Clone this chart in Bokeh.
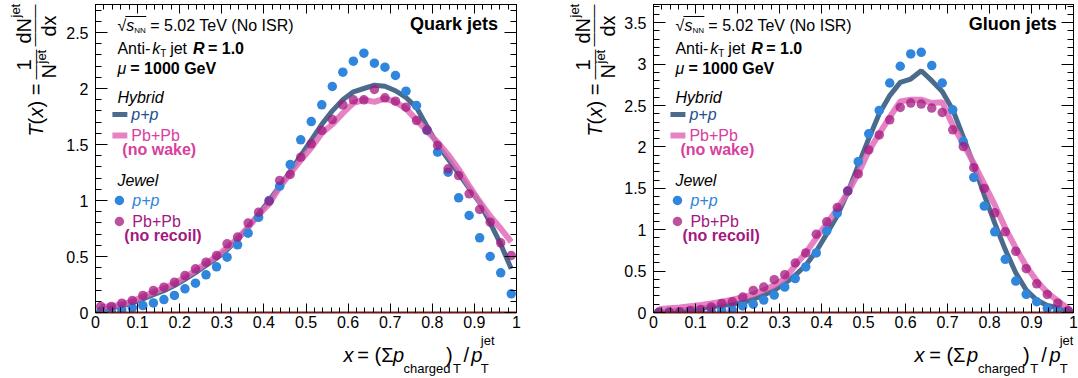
import math
from bokeh.plotting import figure
from bokeh.models import Label, LinearAxis, FixedTicker, CustomJSTickFormatter, Range1d
from bokeh.layouts import row, column
from bokeh.embed import file_html
from bokeh.resources import INLINE

FONT = "Liberation Sans"

# ---------------- data ----------------
x_centers = [0.0125, 0.0375, 0.0625, 0.0875, 0.1125, 0.1375, 0.1625, 0.1875, 0.2125, 0.2375,
             0.2625, 0.2875, 0.3125, 0.3375, 0.3625, 0.3875, 0.4125, 0.4375, 0.4625, 0.4875,
             0.5125, 0.5375, 0.5625, 0.5875, 0.6125, 0.6375, 0.6625, 0.6875, 0.7125, 0.7375,
             0.7625, 0.7875, 0.8125, 0.8375, 0.8625, 0.8875, 0.9125, 0.9375, 0.9625, 0.9875]

quark_hybrid_pp = [0.03, 0.04, 0.06, 0.085, 0.12, 0.16, 0.195, 0.24, 0.295, 0.355,
                   0.42, 0.485, 0.56, 0.65, 0.76, 0.88, 1.0, 1.13, 1.26, 1.40,
                   1.54, 1.68, 1.80, 1.90, 1.97, 2.00, 2.03, 2.02, 1.98, 1.92,
                   1.83, 1.66, 1.50, 1.37, 1.24, 1.11, 0.98, 0.80, 0.61, 0.39]
quark_hybrid_pbpb = [0.05, 0.055, 0.075, 0.10, 0.14, 0.18, 0.215, 0.26, 0.315, 0.375,
                     0.44, 0.50, 0.58, 0.66, 0.76, 0.87, 0.97, 1.12, 1.24, 1.36,
                     1.47, 1.60, 1.68, 1.78, 1.87, 1.90, 1.88, 1.91, 1.88, 1.82,
                     1.72, 1.62, 1.52, 1.41, 1.28, 1.13, 0.99, 0.86, 0.75, 0.63]
quark_jewel_pp = [0.012, 0.012, 0.024, 0.042, 0.062, 0.085, 0.115, 0.152, 0.211, 0.262,
                  0.336, 0.408, 0.494, 0.604, 0.708, 0.85, 1.0, 1.128, 1.321, 1.542,
                  1.705, 1.854, 2.018, 2.146, 2.244, 2.315, 2.226, 2.19, 2.116, 1.976,
                  1.848, 1.625, 1.432, 1.253, 1.024, 0.866, 0.667, 0.5, 0.354, 0.167]
quark_jewel_pbpb = [0.054, 0.054, 0.083, 0.107, 0.152, 0.196, 0.226, 0.271, 0.33, 0.39,
                    0.449, 0.509, 0.613, 0.673, 0.798, 0.896, 0.994, 1.179, 1.232, 1.387,
                    1.506, 1.625, 1.723, 1.854, 1.899, 1.899, 1.991, 1.917, 1.887, 1.833,
                    1.714, 1.631, 1.491, 1.283, 1.223, 1.06, 0.92, 0.806, 0.622, 0.509]

gluon_hybrid_pp = [0.01, 0.02, 0.03, 0.045, 0.055, 0.07, 0.085, 0.10, 0.12, 0.16,
                   0.21, 0.27, 0.35, 0.45, 0.57, 0.74, 0.95, 1.17, 1.45, 1.78,
                   2.10, 2.40, 2.62, 2.78, 2.82, 2.92, 2.80, 2.67, 2.45, 2.12,
                   1.78, 1.42, 1.08, 0.76, 0.48, 0.27, 0.15, 0.085, 0.057, 0.024]
gluon_hybrid_pbpb = [0.04, 0.05, 0.06, 0.075, 0.09, 0.11, 0.13, 0.155, 0.185, 0.22,
                     0.27, 0.33, 0.41, 0.57, 0.72, 0.90, 1.07, 1.25, 1.45, 1.68,
                     1.95, 2.16, 2.36, 2.55, 2.57, 2.57, 2.53, 2.54, 2.26, 2.04,
                     1.80, 1.55, 1.30, 1.02, 0.78, 0.56, 0.38, 0.24, 0.14, 0.05]
gluon_jewel_pp = [0.0, 0.0, 0.0, 0.004, 0.004, 0.012, 0.024, 0.032, 0.08, 0.10,
                  0.15, 0.21, 0.307, 0.41, 0.55, 0.72, 0.985, 1.20, 1.467, 1.822,
                  2.158, 2.44, 2.772, 2.974, 3.123, 3.143, 2.982, 2.772, 2.448, 2.065,
                  1.632, 1.285, 0.974, 0.642, 0.38, 0.22, 0.13, 0.05, 0.02, 0.01]
gluon_jewel_pbpb = [0.005, 0.005, 0.01, 0.024, 0.035, 0.065, 0.11, 0.13, 0.186, 0.267,
                    0.307, 0.396, 0.457, 0.598, 0.719, 0.945, 1.095, 1.268, 1.467, 1.673,
                    1.964, 2.145, 2.327, 2.477, 2.529, 2.517, 2.469, 2.416, 2.206, 2.004,
                    1.749, 1.499, 1.204, 0.974, 0.739, 0.529, 0.347, 0.218, 0.113, 0.024]

x_major_ticks = [0, 0.1, 0.2, 0.3, 0.4, 0.5, 0.6, 0.7, 0.8, 0.9, 1.0]
quark_y_ticks = [0, 0.5, 1, 1.5, 2, 2.5]
gluon_y_ticks = [0, 0.5, 1, 1.5, 2, 2.5, 3, 3.5]
quark_ymax = 2.75
gluon_ymax = 3.72

# ---------------- styles ----------------
COL_HY_PP = "#4a6b8c"
COL_HY_PB = "#e26cba"
COL_JW_PP = "#2f86dc"
COL_JW_PB = "#a3187f"
TXT_HY_PP = "#1d4f91"
TXT_HY_PB = "#d9409e"
TXT_JW_PP = "#2f86dc"
TXT_JW_PB = "#a3187f"
AXIS_RED = "#6e1a1a"

PAGE_H = 378
MAIN_H = 333
B_TOP = 4
B_BOTTOM = 21
XLAB_H = PAGE_H - MAIN_H


def blank_fig(w, h):
    f = figure(width=w, height=h, x_range=Range1d(0, w), y_range=Range1d(0, h),
               output_backend="svg", toolbar_location=None,
               min_border_left=0, min_border_right=0, min_border_top=0, min_border_bottom=0,
               x_axis_location=None, y_axis_location=None)
    f.xgrid.grid_line_color = None
    f.ygrid.grid_line_color = None
    f.outline_line_color = None
    f.background_fill_color = "white"
    f.border_fill_color = "white"
    return f


def page_label(f, page_left, page_bottom, px, py, text, size=20, style="normal", angle=0.0):
    f.add_layout(Label(x=px - page_left, y=page_bottom - py, text=text, text_font=FONT,
                       text_font_size=f"{size}px", text_font_style=style, text_color="black",
                       text_baseline="middle", text_align="left", angle=angle))


def make_ylabel(width, page_left, shift):
    f = blank_fig(width, PAGE_H)
    a = math.pi / 2
    L = lambda col, start, txt, size=20, style="normal": page_label(
        f, page_left, PAGE_H, col + shift, start, txt, size, style, a)
    L(35, 136, "T", style="italic")
    L(35, 124, "(")
    L(35, 117, "x", style="italic")
    L(35, 107, ") =")
    L(33.5, 79, "\u2014\u2014", size=15)
    L(23, 70, "1")
    L(48, 78, "N")
    L(41, 63, "jet", size=13)
    L(33.5, 46, "\u2014\u2014\u2014", size=14)
    L(23, 43, "dN")
    L(15, 17, "jet", size=13)
    L(48, 36, "dx")
    return f


def make_xlabel(width, page_left, frame_right):
    f = blank_fig(width, XLAB_H)
    L = lambda px, py, txt, size=20, style="normal": page_label(
        f, page_left, PAGE_H, frame_right + px, py, txt, size, style)
    L(-168, 354, "x", style="italic")
    L(-152, 354, "= (\u03a3")
    L(-111, 354, "p", style="italic")
    L(-99, 368, "charged", size=13)
    L(-50, 354, ")")
    L(-42, 368, "T", size=13)
    L(-30, 354, "/")
    L(-21, 354, "p", style="italic")
    L(-10, 340, "jet", size=13)
    L(-10, 368, "T", size=13)
    return f


def make_panel(fig_w, b_left, b_right, ymax, y_ticks, hy_pp, hy_pb, jw_pp, jw_pb, tag):
    frame_w = fig_w - b_left - b_right
    frame_h = MAIN_H - B_TOP - B_BOTTOM
    y_px = frame_h / ymax
    p = figure(width=fig_w, height=MAIN_H, x_range=Range1d(0, 1), y_range=Range1d(0, ymax),
               output_backend="svg", toolbar_location=None,
               min_border_left=b_left, min_border_right=b_right,
               min_border_top=B_TOP, min_border_bottom=B_BOTTOM,
               x_axis_location=None, y_axis_location=None)
    p.xgrid.grid_line_color = None
    p.ygrid.grid_line_color = None
    p.outline_line_color = "black"
    p.outline_line_width = 1
    p.background_fill_color = "white"
    p.border_fill_color = "white"

    x_minor = [i * 0.02 for i in range(51)]
    y_minor = [i * 0.1 for i in range(int(ymax * 10) + 1)]

    def cfg(ax, maj, mnr, labels):
        ax.major_tick_in = maj
        ax.major_tick_out = 0
        ax.minor_tick_in = mnr
        ax.minor_tick_out = 0
        ax.major_tick_line_color = "black"
        ax.minor_tick_line_color = "black"
        ax.axis_line_color = "black"
        if labels:
            ax.formatter = CustomJSTickFormatter(code="return (Math.round(tick*1000)/1000).toString();")
            ax.major_label_text_font = FONT
            ax.major_label_text_font_size = "16px"
            ax.major_label_text_color = "black"
        else:
            ax.formatter = CustomJSTickFormatter(code="return '';")
            ax.major_label_text_font_size = "1px"
            ax.major_label_standoff = 0

    xb = LinearAxis(ticker=FixedTicker(ticks=x_major_ticks, minor_ticks=x_minor))
    cfg(xb, 9, 5, True)
    xb.major_label_standoff = 3
    xb.axis_line_color = AXIS_RED
    xb.axis_line_width = 2
    p.add_layout(xb, "below")
    xt = LinearAxis(ticker=FixedTicker(ticks=x_major_ticks, minor_ticks=x_minor))
    cfg(xt, 9, 5, False)
    p.add_layout(xt, "above")
    yl = LinearAxis(ticker=FixedTicker(ticks=y_ticks, minor_ticks=y_minor))
    cfg(yl, 12, 6, True)
    yl.major_label_standoff = 7
    p.add_layout(yl, "left")
    yr = LinearAxis(ticker=FixedTicker(ticks=y_ticks, minor_ticks=y_minor))
    cfg(yr, 12, 6, False)
    p.add_layout(yr, "right")

    # data
    p.line(x_centers, hy_pp, line_width=5, color=COL_HY_PP)
    p.line(x_centers, hy_pb, line_width=6, color=COL_HY_PB, alpha=0.85)
    p.scatter(x_centers, jw_pp, size=9.5, color=COL_JW_PP, line_color=None)
    p.scatter(x_centers, jw_pb, size=9.5, color=COL_JW_PB, line_color=None, alpha=0.75)

    # helpers (offsets in px from frame left / frame bottom)
    def X(dx):
        return dx / frame_w

    def Y(dy):
        return dy / y_px

    def T(dx, dy, text, size=16, style="normal", color="black"):
        p.add_layout(Label(x=X(dx), y=Y(dy), text=text, text_font=FONT,
                           text_font_size=f"{size}px", text_font_style=style,
                           text_color=color, text_baseline="middle", text_align="left"))

    # header texts
    T(22, 287, "\u221a")
    p.line([X(30), X(51)], [Y(296), Y(296)], line_width=1, color="black")
    T(31, 287, "s", style="italic")
    T(39, 282, "NN", size=8)
    T(55, 287, "= 5.02 TeV (No ISR)")
    T(22, 264, "Anti-")
    T(57, 264, "k", style="italic")
    T(65, 259, "T", size=10)
    T(75, 264, "jet")
    T(98, 264, "R", style="bold italic")
    T(113, 264, "= 1.0", style="bold")
    T(22, 244, "\u03bc", style="italic")
    T(35, 244, "= 1000 GeV", style="bold")
    T(316, 289, tag, size=18, style="bold")

    # legend
    T(22, 215, "Hybrid", style="italic")
    p.line([X(17), X(32)], [Y(198), Y(198)], line_width=5, color=COL_HY_PP)
    T(36, 198, "p+p", style="italic", color=TXT_HY_PP)
    p.line([X(17), X(32)], [Y(177), Y(177)], line_width=6, color=COL_HY_PB, alpha=0.85)
    T(36, 177, "Pb+Pb", color=TXT_HY_PB)
    T(27, 163, "(no wake)", style="bold", color=TXT_HY_PB)
    T(22, 132, "Jewel", style="italic")
    p.scatter([X(24)], [Y(112)], size=9.5, color=COL_JW_PP, line_color=None)
    T(37, 112, "p+p", style="italic", color=TXT_JW_PP)
    p.scatter([X(24)], [Y(91)], size=9.5, color=COL_JW_PB, line_color=None, alpha=0.75)
    T(37, 91, "Pb+Pb", color=TXT_JW_PB)
    T(29, 77, "(no recoil)", style="bold", color=TXT_JW_PB)
    return p


# left (quark) panel: page x 0..547, frame 93..516
yl_q = make_ylabel(63, 0, 0)
p_quark = make_panel(484, 30, 31, quark_ymax, quark_y_ticks,
                     quark_hybrid_pp, quark_hybrid_pbpb, quark_jewel_pp, quark_jewel_pbpb,
                     "Quark jets")
xl_q = make_xlabel(484, 63, 516)

# right (gluon) panel: page x 547..1078, frame 652..1073
yl_g = make_ylabel(74, 547, 559)
p_gluon = make_panel(457, 31, 5, gluon_ymax, gluon_y_ticks,
                     gluon_hybrid_pp, gluon_hybrid_pbpb, gluon_jewel_pp, gluon_jewel_pbpb,
                     "Gluon jets")
xl_g = make_xlabel(457, 621, 1073)

layout = row(yl_q, column(p_quark, xl_q), yl_g, column(p_gluon, xl_g))
open("out.html", "w").write(file_html(layout, INLINE, title="T(x)"))
